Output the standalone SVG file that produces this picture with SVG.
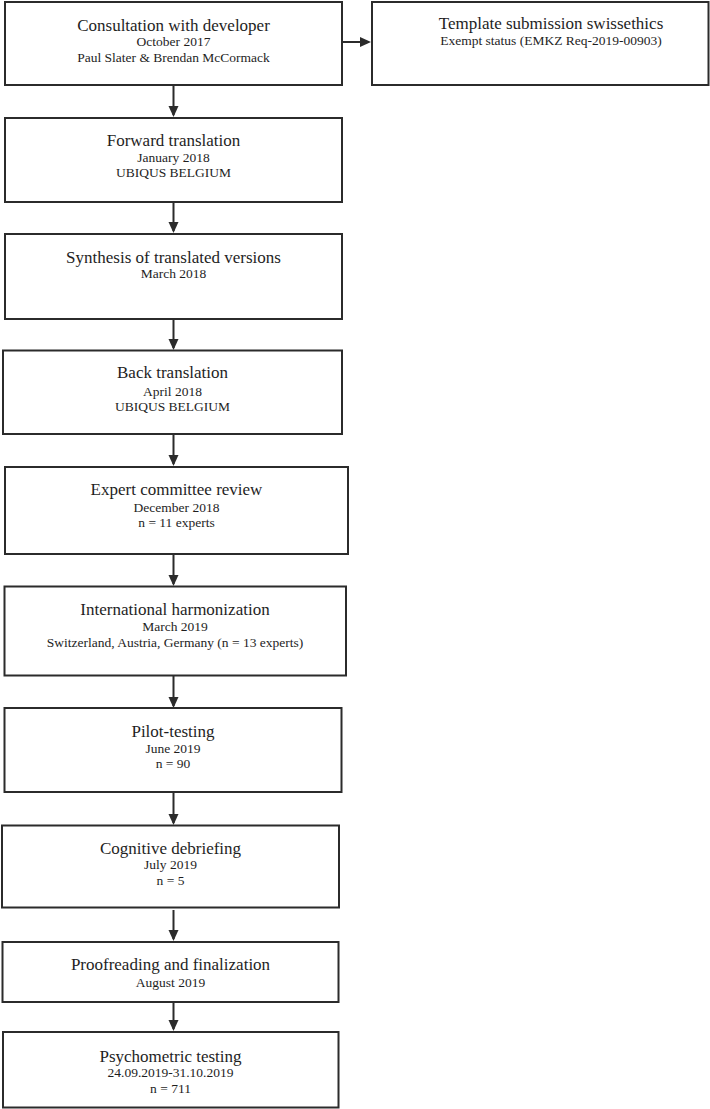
<svg xmlns="http://www.w3.org/2000/svg" width="710" height="1109" viewBox="0 0 710 1109">
<style>
rect.box{fill:#fff;stroke:#2b2b2b;stroke-width:2}
text{font-family:"Liberation Serif","Times New Roman",serif;fill:#1e1e1e;text-anchor:middle}
.t{font-size:17px}
.s{font-size:13.5px}
.c{stroke:#2b2b2b;stroke-width:2;fill:none;marker-end:url(#ah)}
</style>
<defs>
<marker id="ah" markerUnits="userSpaceOnUse" markerWidth="11" markerHeight="11" refX="9" refY="5.5" orient="auto">
<path d="M0,0.5 L11,5.5 L0,10.5 z" fill="#2b2b2b"/>
</marker>
</defs>
<rect width="710" height="1109" fill="#fff"/>
<g id="connectors">
<line class="c" x1="342" y1="42" x2="369" y2="42"/>
<line class="c" x1="173.5" y1="85" x2="173.5" y2="115"/>
<line class="c" x1="173.5" y1="202" x2="173.5" y2="231"/>
<line class="c" x1="173.5" y1="319" x2="173.5" y2="348"/>
<line class="c" x1="173.5" y1="434" x2="173.5" y2="464"/>
<line class="c" x1="173.5" y1="554" x2="173.5" y2="584"/>
<line class="c" x1="173.5" y1="676" x2="173.5" y2="706"/>
<line class="c" x1="173.5" y1="792" x2="173.5" y2="823"/>
<line class="c" x1="173.5" y1="910" x2="173.5" y2="939"/>
<line class="c" x1="173.5" y1="1002" x2="173.5" y2="1029"/>
</g>
<g id="consultation">
<rect class="box" x="5" y="2" width="337" height="83"/>
<text class="t" x="173.5" y="30.5">Consultation with developer</text>
<text class="s" x="173.5" y="46">October 2017</text>
<text class="s" x="173.5" y="62">Paul Slater &amp; Brendan McCormack</text>
</g>
<g id="template">
<rect class="box" x="372" y="2" width="336.5" height="83"/>
<text class="t" x="551" y="29">Template submission swissethics</text>
<text class="s" x="551" y="45">Exempt status (EMKZ Req-2019-00903)</text>
</g>
<g id="forward">
<rect class="box" x="5" y="118" width="337" height="84"/>
<text class="t" x="173.5" y="145.7">Forward translation</text>
<text class="s" x="173.5" y="162.3">January 2018</text>
<text class="s" x="173.5" y="176.7">UBIQUS BELGIUM</text>
</g>
<g id="synthesis">
<rect class="box" x="5" y="234" width="337" height="85"/>
<text class="t" x="173.5" y="262.7">Synthesis of translated versions</text>
<text class="s" x="173.5" y="278">March 2018</text>
</g>
<g id="back">
<rect class="box" x="3" y="350.5" width="339" height="83.5"/>
<text class="t" x="172.5" y="378">Back translation</text>
<text class="s" x="172.5" y="395.7">April 2018</text>
<text class="s" x="172.5" y="410.7">UBIQUS BELGIUM</text>
</g>
<g id="expert">
<rect class="box" x="5" y="467" width="343" height="87"/>
<text class="t" x="176.5" y="495">Expert committee review</text>
<text class="s" x="176.5" y="511.7">December 2018</text>
<text class="s" x="176.5" y="526.7">n = 11 experts</text>
</g>
<g id="international">
<rect class="box" x="4.5" y="586.5" width="341.5" height="89"/>
<text class="t" x="175" y="615">International harmonization</text>
<text class="s" x="175" y="630.7">March 2019</text>
<text class="s" x="175" y="647.3">Switzerland, Austria, Germany (n = 13 experts)</text>
</g>
<g id="pilot">
<rect class="box" x="4.5" y="708" width="337" height="84"/>
<text class="t" x="173" y="736.7">Pilot-testing</text>
<text class="s" x="173" y="753.3">June 2019</text>
<text class="s" x="173" y="768.3">n = 90</text>
</g>
<g id="cognitive">
<rect class="box" x="2" y="825.5" width="337" height="82"/>
<text class="t" x="170.5" y="854">Cognitive debriefing</text>
<text class="s" x="170.5" y="869.3">July 2019</text>
<text class="s" x="170.5" y="885">n = 5</text>
</g>
<g id="proofreading">
<rect class="box" x="2.5" y="942" width="336" height="60"/>
<text class="t" x="170.5" y="970">Proofreading and finalization</text>
<text class="s" x="170.5" y="986.7">August 2019</text>
</g>
<g id="psychometric">
<rect class="box" x="3" y="1032" width="335.5" height="75.5"/>
<text class="t" x="170.5" y="1061.7">Psychometric testing</text>
<text class="s" x="170.5" y="1077.3">24.09.2019-31.10.2019</text>
<text class="s" x="170.5" y="1093.3">n = 711</text>
</g>
</svg>
